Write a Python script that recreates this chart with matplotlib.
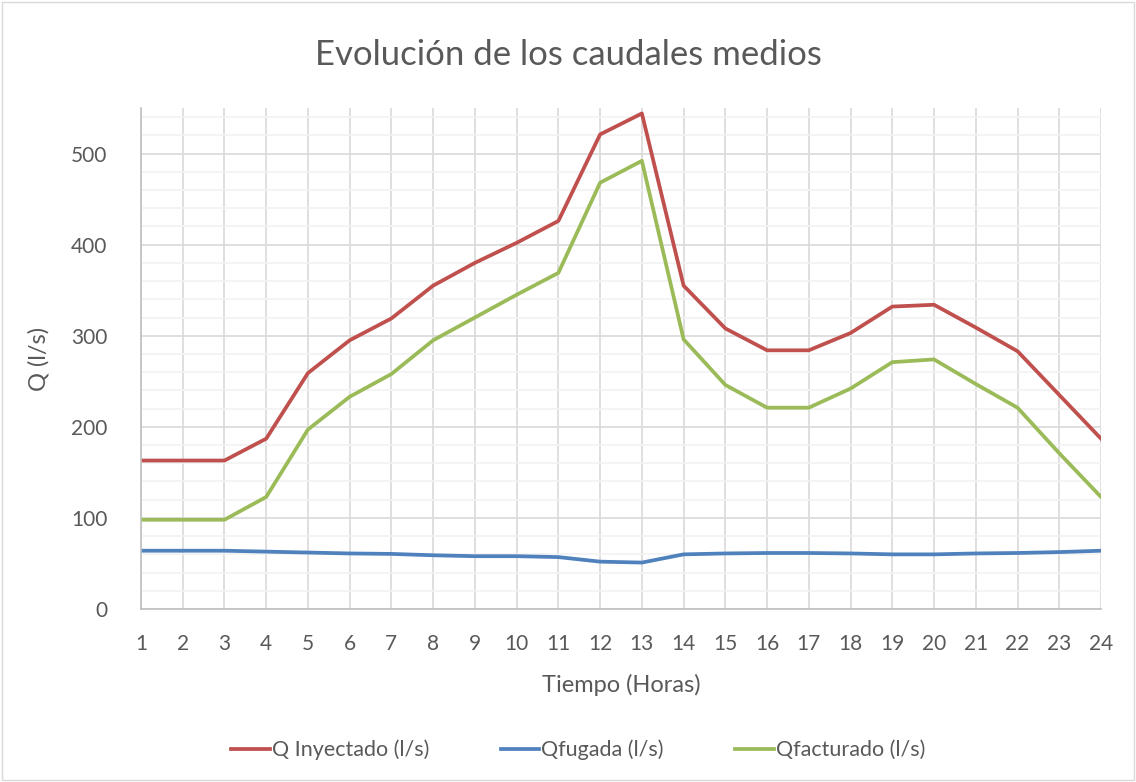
import numpy as np
import matplotlib
matplotlib.use("Agg")
import matplotlib.pyplot as plt
from matplotlib.ticker import MultipleLocator
from matplotlib.patches import Rectangle

# Hourly average flows (l/s)
horas = list(range(1, 25))
q_inyectado = [163, 163, 163, 187, 259, 295, 319, 355, 380, 402, 426, 521,
               544, 355, 308, 284, 284, 303, 332, 334, 309, 283, 235, 187]
q_fugada = [64, 64, 64, 63, 62, 61, 60.5, 59, 58, 58, 57, 52,
            51, 60, 61, 61.5, 61.5, 61, 60, 60, 61, 61.5, 62.5, 64]
q_facturado = [98, 98, 98, 123, 197, 233, 258, 295, 320, 345, 369, 468,
               492, 296, 246, 221, 221, 242, 271, 274, 247, 221, 171, 123]

plt.rcParams['font.family'] = ['Lato', 'DejaVu Sans']
txt = '#595959'

fig = plt.figure(figsize=(11.36, 7.82), dpi=100)
fig.patches.append(Rectangle((0.002, 0.002), 0.996, 0.996, transform=fig.transFigure,
                             fill=False, edgecolor='#D9D9D9', linewidth=1))
ax = fig.add_axes([0.1241, 0.2212, 0.8451, 0.6407])

ax.plot(horas, q_inyectado, color='#C0504D', lw=2.7, label='Q Inyectado (l/s)')
ax.plot(horas, q_fugada, color='#4F81BD', lw=2.7, label='Qfugada (l/s)')
ax.plot(horas, q_facturado, color='#9BBB59', lw=2.7, label='Qfacturado (l/s)')

ax.set_xlim(1, 24)
ax.set_ylim(0, 550)
ax.set_xticks(horas)
ax.yaxis.set_major_locator(MultipleLocator(100))
ax.yaxis.set_minor_locator(MultipleLocator(20))
ax.grid(True, which='major', color='#D9D9D9', lw=1.2)
ax.grid(True, which='minor', axis='y', color='#F2F2F2', lw=1.2)
ax.set_axisbelow(True)

for s in ['top', 'right']:
    ax.spines[s].set_visible(False)
for s in ['left', 'bottom']:
    ax.spines[s].set_color('#BFBFBF')
    ax.spines[s].set_linewidth(1.2)
ax.tick_params(which='both', length=0, labelsize=15, colors=txt)
ax.tick_params(axis='x', pad=18)
ax.tick_params(axis='y', pad=24)

ax.set_xlabel('Tiempo (Horas)', fontsize=17, color=txt, labelpad=14)
ax.set_ylabel('Q (l/s)', fontsize=17, color=txt, labelpad=16)
fig.suptitle('Evolución de los caudales medios', fontsize=25, color=txt,
             y=0.93, va='center')

fig.legend(loc='center', bbox_to_anchor=(0.509, 0.041), ncol=3, frameon=False,
           fontsize=15.5, labelcolor=txt, handlelength=1.8, handletextpad=0.1,
           columnspacing=3.3)

fig.savefig('out.png', dpi=100)
